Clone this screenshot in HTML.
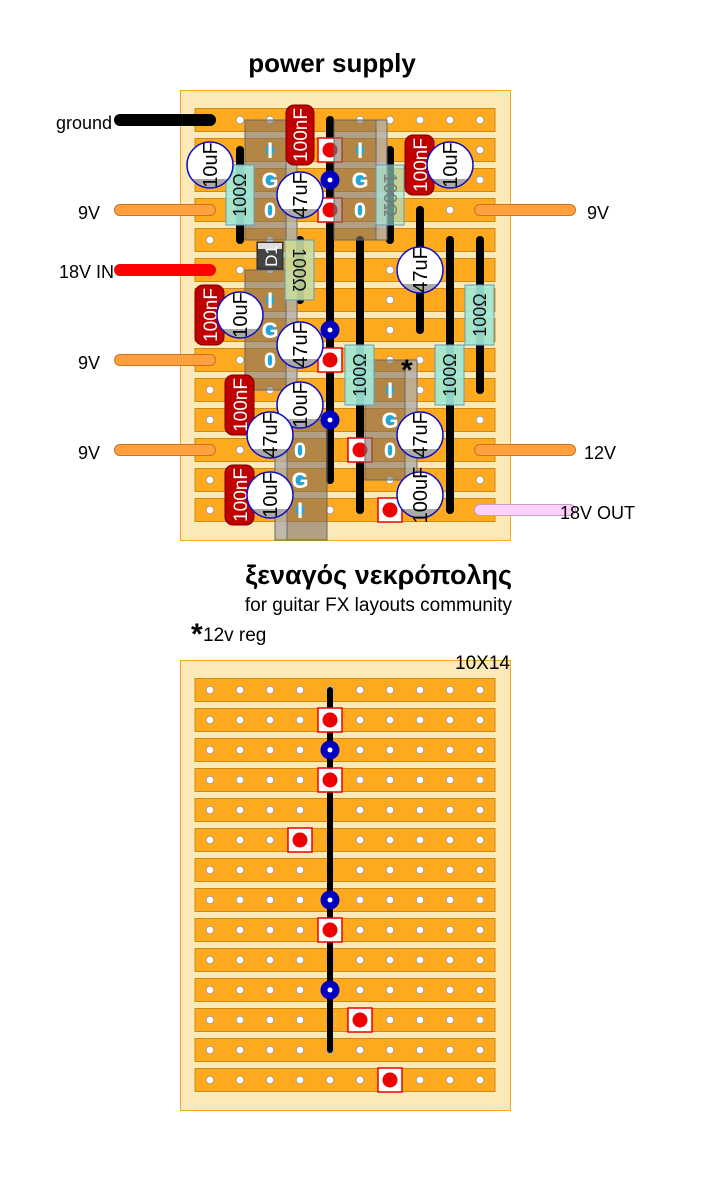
<!DOCTYPE html>
<html><head><meta charset="utf-8"><style>
body{margin:0;background:#fff;width:706px;height:1178px;overflow:hidden}
svg{display:block;font-family:"Liberation Sans","DejaVu Sans",sans-serif}
</style></head><body>
<svg width="706" height="1178" viewBox="0 0 706 1178" xmlns="http://www.w3.org/2000/svg">
<defs>
<pattern id="holes" x="195" y="105" width="30" height="30" patternUnits="userSpaceOnUse">
<circle cx="15" cy="15" r="3.8" fill="#fff" stroke="#999" stroke-width="0.8"/>
</pattern>
<g id="strip"><rect x="195" y="-11.5" width="300" height="23" fill="#ffa91f" stroke="#c98a1a" stroke-width="1"/></g>
<g id="rsq"><rect x="-12" y="-12" width="24" height="24" fill="#fff" stroke="#e00" stroke-width="1.5"/><circle r="7.5" fill="#e00"/></g>
<g id="bdot"><circle r="9.5" fill="#0000c0"/><circle r="2.5" fill="#fff"/></g>
</defs>

<!-- titles -->
<text x="332" y="72" font-size="26" font-weight="bold" text-anchor="middle">power supply</text>
<text x="512" y="584" font-size="27" font-weight="bold" text-anchor="end">ξεναγός νεκρόπολης</text>
<text x="512" y="611" font-size="19" text-anchor="end">for guitar FX layouts community</text>
<text x="191" y="644" font-size="30" font-weight="bold">*</text>
<text x="203" y="641" font-size="19">12v reg</text>

<!-- TOP BOARD -->
<rect x="180.5" y="90.5" width="330" height="450" fill="#fbe9b8" stroke="#f5a623"/>
<use href="#strip" y="120"/><use href="#strip" y="150"/><use href="#strip" y="180"/><use href="#strip" y="210"/>
<use href="#strip" y="240"/><use href="#strip" y="270"/><use href="#strip" y="300"/><use href="#strip" y="330"/>
<use href="#strip" y="360"/><use href="#strip" y="390"/><use href="#strip" y="420"/><use href="#strip" y="450"/>
<use href="#strip" y="480"/><use href="#strip" y="510"/>
<rect x="195" y="105" width="300" height="420" fill="url(#holes)"/>

<!-- off-board wires -->
<g stroke-linecap="round">
<line x1="120" y1="120" x2="210" y2="120" stroke="#000" stroke-width="12"/>
<line x1="120" y1="270" x2="210" y2="270" stroke="#f00" stroke-width="12"/>
<g stroke="#c8741f" stroke-width="12">
<line x1="120" y1="210" x2="210" y2="210"/><line x1="120" y1="360" x2="210" y2="360"/><line x1="120" y1="450" x2="210" y2="450"/>
<line x1="480" y1="210" x2="570" y2="210"/><line x1="480" y1="450" x2="570" y2="450"/></g>
<g stroke="#ffa040" stroke-width="10">
<line x1="120" y1="210" x2="210" y2="210"/><line x1="120" y1="360" x2="210" y2="360"/><line x1="120" y1="450" x2="210" y2="450"/>
<line x1="480" y1="210" x2="570" y2="210"/><line x1="480" y1="450" x2="570" y2="450"/></g>
<line x1="480" y1="510" x2="570" y2="510" stroke="#c9a0c0" stroke-width="12"/>
<line x1="480" y1="510" x2="570" y2="510" stroke="#fcd0fb" stroke-width="10"/>
</g>
<g font-size="18">
<text x="56" y="129">ground</text>
<text x="78" y="219">9V</text>
<text x="59" y="278">18V IN</text>
<text x="78" y="369">9V</text>
<text x="78" y="459">9V</text>
<text x="587" y="219">9V</text>
<text x="584" y="459">12V</text>
<text x="560" y="519">18V OUT</text>
</g>

<!-- links -->
<g stroke="#000" stroke-width="8" stroke-linecap="round">
<line x1="240" y1="150" x2="240" y2="240"/>
<line x1="330" y1="120" x2="330" y2="480"/>
<line x1="360" y1="240" x2="360" y2="510"/>
<line x1="390" y1="150" x2="390" y2="240"/>
<line x1="420" y1="210" x2="420" y2="330"/>
<line x1="450" y1="240" x2="450" y2="510"/>
<line x1="480" y1="240" x2="480" y2="390"/>
<line x1="300" y1="240" x2="300" y2="300"/>
</g>

<use href="#rsq" x="330" y="150"/><use href="#rsq" x="330" y="210"/><use href="#rsq" x="330" y="360"/>
<use href="#rsq" x="360" y="450"/><use href="#rsq" x="390" y="510"/>

<!-- regulators -->
<g stroke="#666" stroke-width="1">
<rect x="245" y="120" width="52" height="120" fill="rgba(128,112,96,0.6)"/>
<rect x="286" y="120" width="11" height="120" fill="rgba(200,205,205,0.55)"/>
<rect x="334" y="120" width="53" height="120" fill="rgba(128,112,96,0.6)"/>
<rect x="376" y="120" width="11" height="120" fill="rgba(200,205,205,0.55)"/>
<rect x="245" y="270" width="52" height="120" fill="rgba(128,112,96,0.6)"/>
<rect x="286" y="270" width="11" height="120" fill="rgba(200,205,205,0.55)"/>
<rect x="275" y="420" width="52" height="120" fill="rgba(128,112,96,0.6)"/>
<rect x="275" y="420" width="12" height="120" fill="rgba(200,205,205,0.55)"/>
<rect x="365" y="360" width="52" height="120" fill="rgba(128,112,96,0.6)"/>
<rect x="405" y="360" width="12" height="120" fill="rgba(200,205,205,0.55)"/>
</g>
<g fill="#1fa8e0">
<ellipse cx="270" cy="150" rx="4" ry="6"/><circle cx="270" cy="180" r="5"/><ellipse cx="270" cy="210" rx="4" ry="6"/>
<ellipse cx="360" cy="150" rx="4" ry="6"/><circle cx="360" cy="180" r="5"/><ellipse cx="360" cy="210" rx="4" ry="6"/>
<ellipse cx="270" cy="300" rx="4" ry="6"/><circle cx="270" cy="330" r="5"/><ellipse cx="270" cy="360" rx="4" ry="6"/>
<ellipse cx="300" cy="450" rx="4" ry="6"/><circle cx="300" cy="480" r="5"/><ellipse cx="300" cy="510" rx="4" ry="6"/>
<ellipse cx="390" cy="390" rx="4" ry="6"/><circle cx="390" cy="420" r="5"/><ellipse cx="390" cy="450" rx="4" ry="6"/>
</g>
<g fill="#fff" font-weight="bold" font-size="22" text-anchor="middle">
<text x="270" y="158">I</text><text x="270" y="188">G</text><text x="270" y="218">0</text>
<text x="360" y="158">I</text><text x="360" y="188">G</text><text x="360" y="218">0</text>
<text x="270" y="308">I</text><text x="270" y="338">G</text><text x="270" y="368">0</text>
<text x="300" y="458">0</text><text x="300" y="488">G</text><text x="300" y="518">I</text>
<text x="390" y="398">I</text><text x="390" y="428">G</text><text x="390" y="458">0</text>
</g>

<!-- diode -->
<rect x="257" y="242" width="26" height="27" fill="#444" stroke="#222"/>
<rect x="258" y="243" width="24" height="6" fill="#ddd"/>
<text transform="translate(277,256) rotate(-90)" font-size="17" fill="#fff" text-anchor="middle">D1</text>

<!-- resistors -->
<g stroke="#6a9ab0" stroke-width="1">
<rect x="226" y="165" width="28" height="60" fill="rgba(160,235,220,0.9)"/>
<rect x="376" y="165" width="28" height="60" fill="rgba(160,235,220,0.6)"/>
<rect x="285" y="240" width="29" height="60" fill="rgba(200,220,160,0.9)"/>
<rect x="465" y="285" width="29" height="60" fill="rgba(160,235,220,0.9)"/>
<rect x="345" y="345" width="29" height="60" fill="rgba(160,235,220,0.9)"/>
<rect x="435" y="345" width="29" height="60" fill="rgba(160,235,220,0.9)"/>
</g>
<g font-size="18" text-anchor="middle" fill="#111">
<text transform="translate(246,195) rotate(-90)">100Ω</text>
<text transform="translate(384,195) rotate(90)" fill="#777">100Ω</text>
<text transform="translate(293,270) rotate(90)">100Ω</text>
<text transform="translate(486,315) rotate(-90)">100Ω</text>
<text transform="translate(366,375) rotate(-90)">100Ω</text>
<text transform="translate(456,375) rotate(-90)">100Ω</text>
</g>

<use href="#bdot" x="330" y="180"/><use href="#bdot" x="330" y="330"/><use href="#bdot" x="330" y="420"/>

<!-- ceramic caps -->
<g fill="#c00000" stroke="#7a0000" stroke-width="1">
<rect x="286" y="105" width="28" height="60" rx="8"/>
<rect x="405" y="135" width="29" height="60" rx="8"/>
<rect x="195" y="285" width="29" height="60" rx="8"/>
<rect x="225" y="375" width="29" height="60" rx="8"/>
<rect x="225" y="465" width="29" height="60" rx="8"/>
</g>
<g font-size="19" text-anchor="middle" fill="#fff">
<text transform="translate(307,135) rotate(-90)">100nF</text>
<text transform="translate(427,165) rotate(-90)">100nF</text>
<text transform="translate(217,315) rotate(-90)">100nF</text>
<text transform="translate(247,405) rotate(-90)">100nF</text>
<text transform="translate(247,495) rotate(-90)">100nF</text>
</g>

<!-- electrolytic caps -->
<defs>
<clipPath id="cc"><circle r="23"/></clipPath>
<g id="ecap">
<circle r="23" fill="#fff"/>
<rect x="-23" y="14" width="46" height="10" fill="#aaa" clip-path="url(#cc)"/>
<circle r="23" fill="none" stroke="#1010c0" stroke-width="1.5"/>
</g>
</defs>
<use href="#ecap" x="210" y="165"/><use href="#ecap" x="300" y="195"/><use href="#ecap" x="450" y="165"/>
<use href="#ecap" x="420" y="270"/><use href="#ecap" x="240" y="315"/><use href="#ecap" x="300" y="345"/>
<use href="#ecap" x="300" y="405"/><use href="#ecap" x="270" y="435"/><use href="#ecap" x="420" y="435"/>
<use href="#ecap" x="270" y="495"/><use href="#ecap" x="420" y="495"/>
<g font-size="20" text-anchor="middle" fill="#000">
<text transform="translate(217,165) rotate(-90)">10uF</text>
<text transform="translate(307,195) rotate(-90)">47uF</text>
<text transform="translate(457,165) rotate(-90)">10uF</text>
<text transform="translate(427,270) rotate(-90)">47uF</text>
<text transform="translate(247,315) rotate(-90)">10uF</text>
<text transform="translate(307,345) rotate(-90)">47uF</text>
<text transform="translate(307,405) rotate(-90)">10uF</text>
<text transform="translate(277,435) rotate(-90)">47uF</text>
<text transform="translate(427,435) rotate(-90)">47uF</text>
<text transform="translate(277,495) rotate(-90)">10uF</text>
<text transform="translate(427,495) rotate(-90)">100uF</text>
</g>
<text x="401" y="380" font-size="30" font-weight="bold">*</text>

<!-- BOTTOM BOARD -->
<rect x="180.5" y="660.5" width="330" height="450" fill="#fbe9b8" stroke="#f5a623"/>
<text x="510" y="669" font-size="19" text-anchor="end">10X14</text>
<use href="#strip" y="690"/><use href="#strip" y="720"/><use href="#strip" y="750"/><use href="#strip" y="780"/>
<use href="#strip" y="810"/><use href="#strip" y="840"/><use href="#strip" y="870"/><use href="#strip" y="900"/>
<use href="#strip" y="930"/><use href="#strip" y="960"/><use href="#strip" y="990"/><use href="#strip" y="1020"/>
<use href="#strip" y="1050"/><use href="#strip" y="1080"/>
<rect x="195" y="675" width="300" height="420" fill="url(#holes)"/>
<line x1="330" y1="690" x2="330" y2="1050" stroke="#000" stroke-width="6" stroke-linecap="round"/>
<use href="#rsq" x="330" y="720"/><use href="#rsq" x="330" y="780"/><use href="#rsq" x="300" y="840"/>
<use href="#rsq" x="330" y="930"/><use href="#rsq" x="360" y="1020"/><use href="#rsq" x="390" y="1080"/>
<use href="#bdot" x="330" y="750"/><use href="#bdot" x="330" y="900"/><use href="#bdot" x="330" y="990"/>
</svg>
</body></html>
